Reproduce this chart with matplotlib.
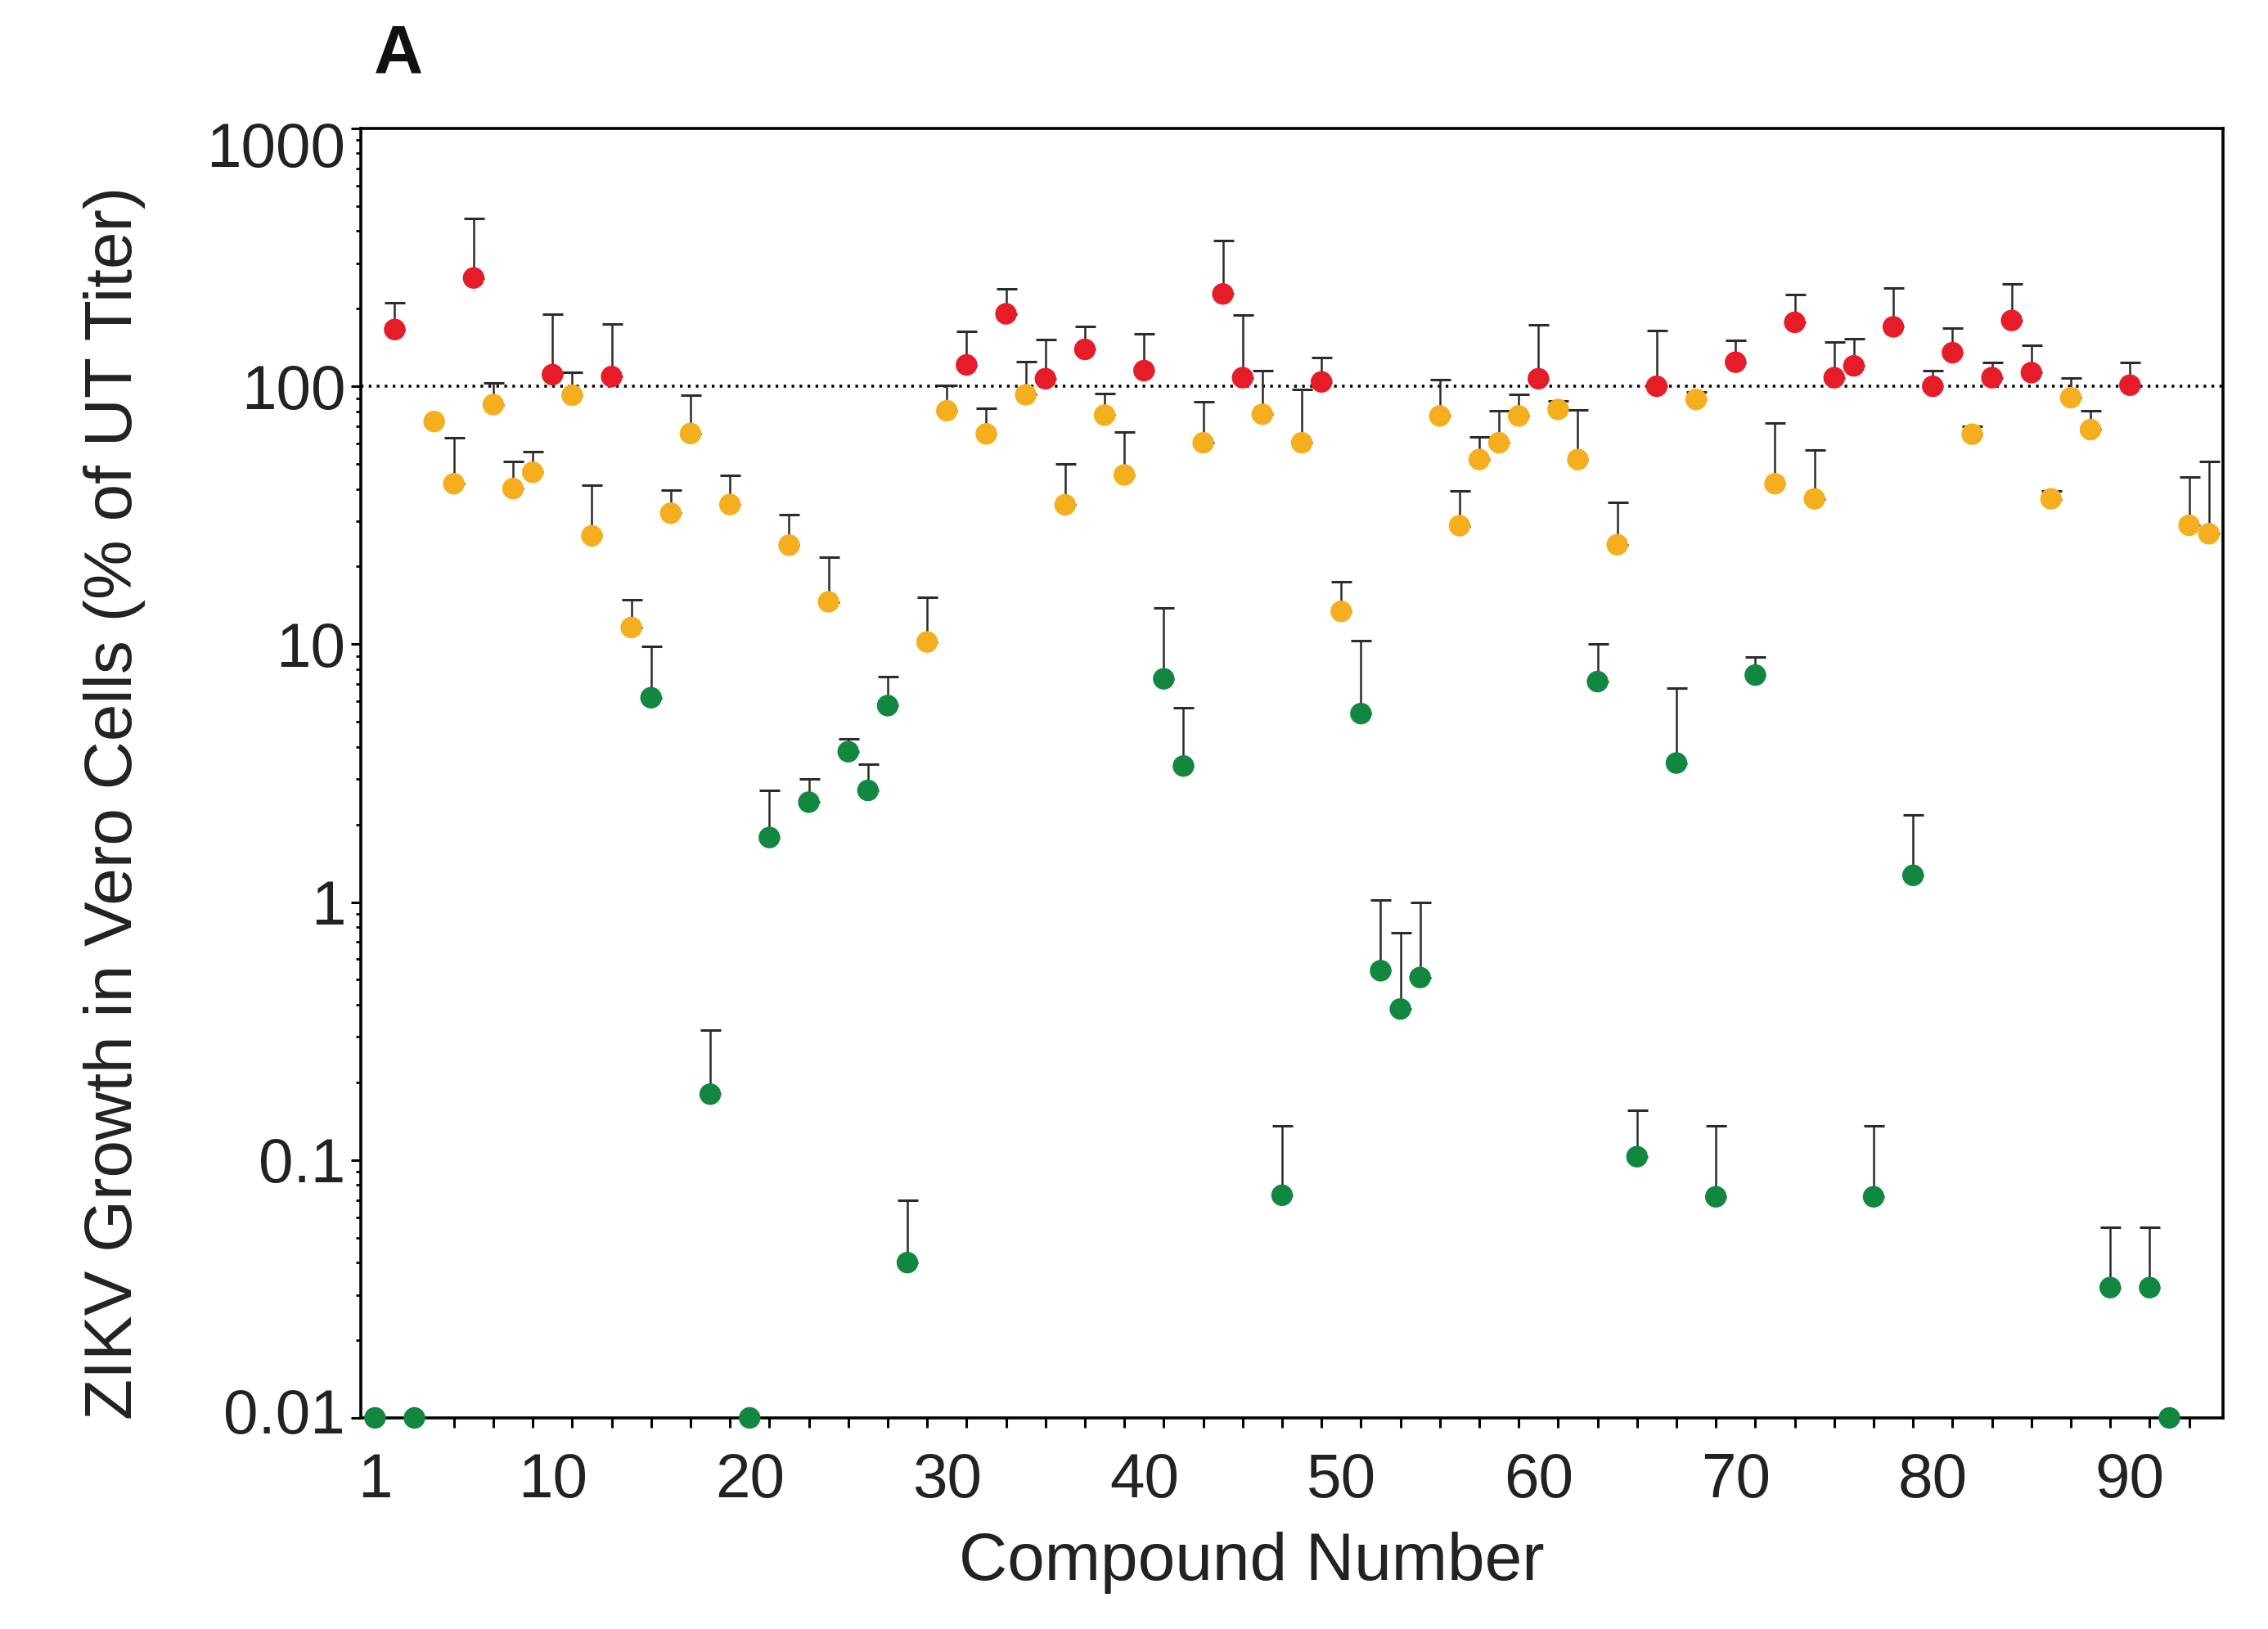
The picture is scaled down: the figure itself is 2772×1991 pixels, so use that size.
import matplotlib
matplotlib.use("Agg")
import matplotlib.pyplot as plt
from matplotlib.ticker import FixedLocator, NullFormatter, LogLocator
from matplotlib.transforms import ScaledTranslation
import numpy as np

plt.rcParams['font.family'] = ['Liberation Sans', 'DejaVu Sans']

# ---- data ----
compounds = list(range(1, 95))
growth = [0.01, 166, 0.01, 73, 41.9, 263, 84.9, 40.1, 46.4, 111,
          92.3, 26.3, 109, 11.6, 6.2, 32.2, 65.6, 0.18, 34.8, 0.01,
          1.78, 24.2, 2.44, 14.6, 3.83, 2.71, 5.78, 0.040, 10.2, 80.4,
          121, 65.4, 191, 92.7, 107, 34.7, 139, 77.3, 45.3, 115,
          7.34, 3.37, 60.4, 228, 108, 77.9, 0.073, 60.4, 104, 13.4,
          5.38, 0.542, 0.385, 0.51, 76.7, 28.8, 52, 60.4, 76.7, 107,
          81.3, 52, 7.16, 24.3, 0.103, 100, 3.46, 88.9, 0.072, 124,
          7.59, 41.9, 177, 36.6, 108, 120, 0.072, 170, 1.27, 100,
          135, 65.2, 108, 180, 113, 36.6, 90.3, 67.9, 0.032, 101,
          0.032, 0.01, 28.9, 26.8]
upper = [None, 211, None, None, 63, 448, 103, 51, 55.7, 190,
         113, 41.3, 174, 14.9, 9.8, 39.6, 92.3, 0.32, 45.1, None,
         2.71, 31.7, 3.0, 21.8, 4.3, 3.42, 7.5, 0.070, 15.2, 101,
         163, 82.4, 239, 125, 152, 50, 171, 93.5, 66.6, 160,
         13.8, 5.67, 87.3, 367, 189, 115, 0.136, 97.3, 129, 17.5,
         10.3, 1.02, 0.76, 1.0, 106, 39.4, 63.4, 80.4, 92.7, 173,
         88, 80.7, 10, 35.4, 0.156, 164, 6.76, 95, 0.136, 151,
         8.93, 72.3, 227, 56.8, 148, 153, 0.136, 240, 2.18, 115,
         168, 70.2, 124, 250, 144, 39.3, 108, 80.3, 0.055, 124,
         0.055, None, 44.5, 51]
group = list("GRGYYRYYYR"
             "YYRYGYYGYG"
             "GYGYGGGGYY"
             "RYRYRYRYYR"
             "GGYRRYGYRY"
             "GGGGYYYYYR"
             "YYGYGRGYGR"
             "GYRYRRGRGR"
             "RYRRRYYYGR"
             "GGYY")
group_colors = {'R': '#E61C28', 'Y': '#F5AE1E', 'G': '#11873F'}
xtick_labels = [1, 10, 20, 30, 40, 50, 60, 70, 80, 90]
ytick_values = [0.01, 0.1, 1, 10, 100, 1000]
ytick_labels = ['0.01', '0.1', '1', '10', '100', '1000']
reference_level = 100

# ---- figure ----
fig = plt.figure(figsize=(13.86, 9.955), dpi=200)
ax = fig.add_axes([0.159, 0.1296, 0.821, 0.7916])

# error bars (upper only)
ex, ey, eu = [], [], []
for c, g, u in zip(compounds, growth, upper):
    if u is not None:
        ex.append(c); ey.append(g); eu.append(u - g)
ax.errorbar(ex, ey, yerr=[np.zeros(len(eu)), eu], fmt='none',
            ecolor='#2b2b2b', elinewidth=0.9, capsize=4.5, capthick=1.1, zorder=2)

# reference line
ax.axhline(reference_level, color='black', lw=1.3, dashes=(0.9, 1.8), zorder=1)

# points
cols = [group_colors[g] for g in group]
ax.scatter(compounds, growth, s=9.5**2, c=cols, edgecolors='none', zorder=3, clip_on=False)

ax.set_yscale('log')
ax.set_ylim(0.01, 1000)
ax.set_xlim(0.27, 94.7)

ax.set_yticks(ytick_values)
ax.set_yticklabels(ytick_labels)
ax.yaxis.set_minor_locator(LogLocator(base=10, subs=np.arange(2, 10)))
ax.yaxis.set_minor_formatter(NullFormatter())

ax.xaxis.remove_overlapping_locs = False
ax.set_xticks(xtick_labels)
ax.set_xticklabels([str(v) for v in xtick_labels])
ax.xaxis.set_minor_locator(FixedLocator(list(range(1, 95, 2))))

ax.tick_params(axis='x', which='major', length=0, pad=15, labelsize=27.5)
ax.tick_params(axis='x', which='minor', length=4.2, width=1.1, direction='out')
ax.tick_params(axis='y', which='major', length=4.2, width=1.1, pad=2.5, labelsize=27.5)
ax.tick_params(axis='y', which='minor', length=2.2, width=1.0)
ax.tick_params(axis='both', colors='black', labelcolor='#222222', which='both')

# the outermost y labels sit slightly inside the axis range in the original
ylabels = ax.get_yticklabels()
ylabels[-1].set_transform(ylabels[-1].get_transform() + ScaledTranslation(0, -7 / 72, fig.dpi_scale_trans))
ylabels[0].set_transform(ylabels[0].get_transform() + ScaledTranslation(0, 3 / 72, fig.dpi_scale_trans))

for s in ax.spines.values():
    s.set_linewidth(1.3)
    s.set_color('black')

fig.text(0.0505, 0.507, 'ZIKV Growth in Vero Cells (% of UT Titer)', rotation=90,
         ha='center', va='center', fontsize=29.5, color='#222222')
fig.text(0.552, 0.0407, 'Compound Number', ha='center', va='center',
         fontsize=29.5, color='#222222')
fig.text(0.1757, 0.9663, 'A', ha='center', va='center', fontsize=30,
         fontweight='bold', color='#111111')

fig.savefig('out.png', dpi=200, facecolor='white')
